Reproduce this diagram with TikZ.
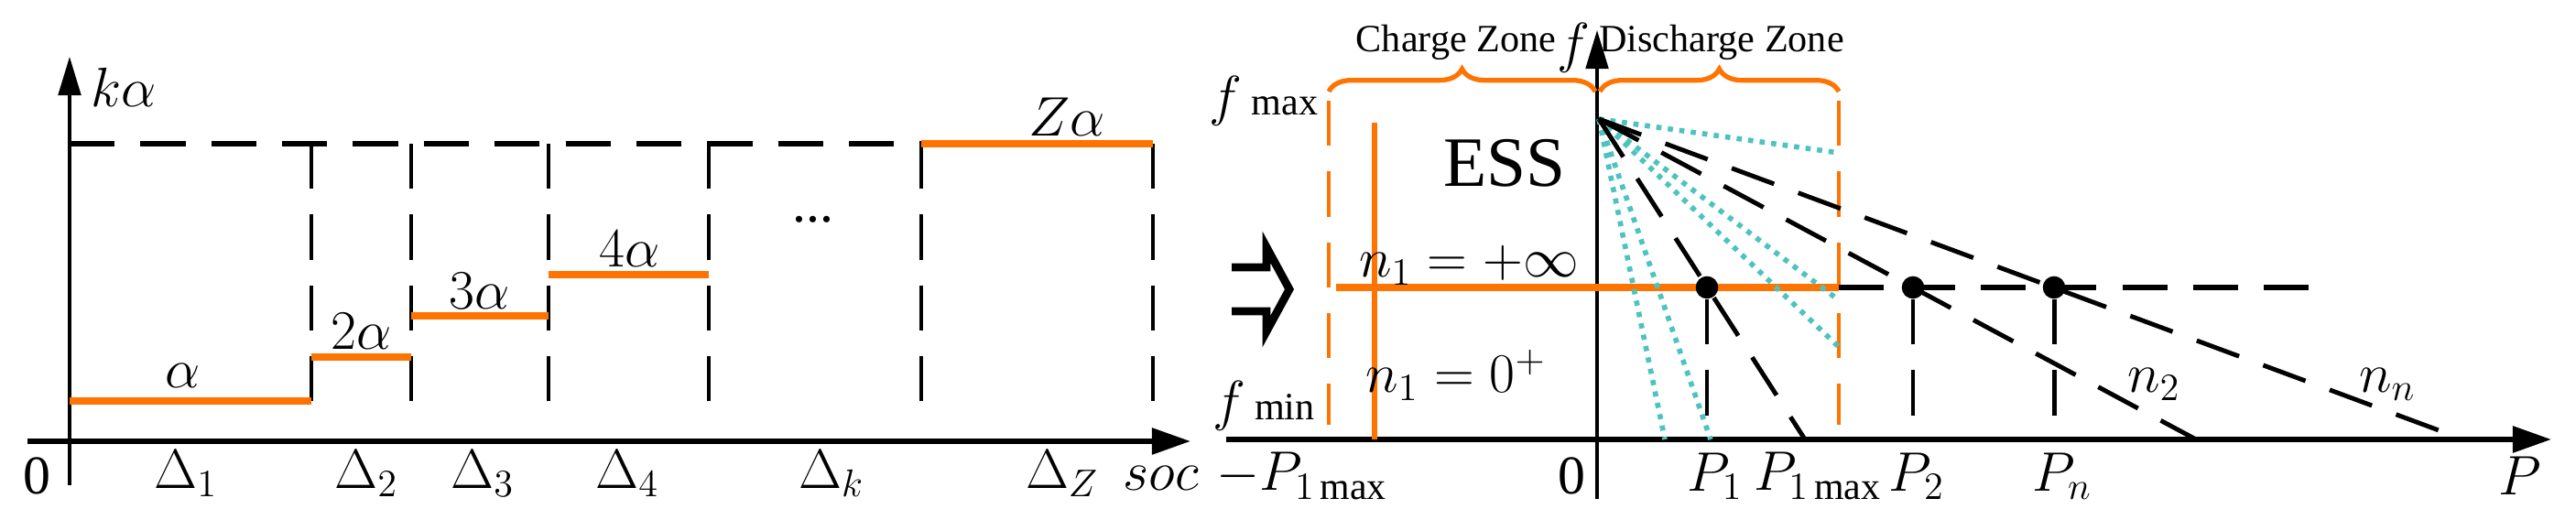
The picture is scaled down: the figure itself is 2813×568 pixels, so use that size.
\documentclass[tikz,border=0pt]{standalone}
\usepackage{fontspec}
\setmainfont{Liberation Serif}
\usetikzlibrary{arrows.meta,decorations.pathreplacing}
\begin{document}
\begin{tikzpicture}[x=0.01cm,y=-0.01cm,
 ax/.style={line width=1pt,-{Triangle[length=12pt,width=7pt]}},
 axb/.style={line width=1.6pt,-{Triangle[length=12pt,width=8pt]}},
 dsh/.style={line width=1.4pt,dash pattern=on 14pt off 8pt},
 org/.style={draw=orange!90!red,color=orange!90!red,line width=2pt},
 odsh/.style={draw=orange!90!red,line width=1.2pt,dash pattern=on 14pt off 8pt},
 cy/.style={draw=cyan!60!green!70!white,line width=1.6pt,dotted},
 lab/.style={font=\fontsize{17}{20}\selectfont,inner sep=1pt},
 small/.style={font=\fontsize{12}{14}\selectfont,inner sep=1pt},
 brc/.style={org,line width=1.5pt,decorate,decoration={brace,amplitude=7pt}},
 dot/.style={circle,fill=black,inner sep=0pt,minimum size=7pt}]
\useasboundingbox (0,0) rectangle (2813,568);
% ---------- left panel
\draw[ax] (76,530) -- (76,62);
\draw[axb] (30,482) -- (1300,482);
\draw[dsh,line width=1.8pt] (76,157) -- (1006,157);
\foreach \x in {340,449,599,774,1006,1259} \draw[dsh] (\x,157) -- (\x,464);
\draw[org,line width=2.5pt] (76,438) -- (340,438);
\draw[org,line width=2.5pt] (340,390) -- (449,390);
\draw[org,line width=2.5pt] (449,345) -- (599,345);
\draw[org,line width=2.5pt] (599,300) -- (774,300);
\draw[org,line width=2.5pt] (1006,157) -- (1259,157);
\node[lab] (ka) at (135,95) {$k\alpha$};
\node[lab] (a1) at (200,410) {$\alpha$};
\node[lab] (a2) at (395,362) {$2\alpha$};
\node[lab] (a3) at (524,318) {$3\alpha$};
\node[lab] (a4) at (688,272) {$4\alpha$};
\node[lab] (az) at (1165,128) {$Z\alpha$};
\node[lab] (dots) at (888,240) {...};
\node[lab] (z0) at (40,520) {0};
\foreach \x/\t in {203/1,400/2,527/3,685/4,908/k,1160/Z}
  \node[lab] at (\x,517) {$\Delta_{\t}$};
\node[lab] (soc) at (1268,522) {$soc$};
% ---------- double arrow (outline)
\draw[line width=2.5pt,line join=miter] (1345,292) -- (1383,292) -- (1383,270) -- (1408,316) -- (1383,362) -- (1383,340) -- (1345,340);
% ---------- right panel
\draw[ax] (1744,545) -- (1744,33);
\draw[axb] (1339,480) -- (2786,480);
\draw[odsh] (1451,110) -- (1451,464);
\draw[odsh] (2008,110) -- (2008,464);
\draw[brc] (1451,100) -- (1742,100);
\draw[brc] (1747,100) -- (2008,100);
\node[small] (cz) at (1590,46) {Charge Zone};
\node[small] (dz) at (1880,46) {Discharge Zone};
\node[lab] (fl) at (1718,52) {$f$};
\node[lab] (fmax) at (1380,110) {$f$\,{\fontsize{12}{14}\selectfont max}};
\node[lab] (fmin) at (1380,443) {$f$\,{\fontsize{12}{14}\selectfont min}};
\draw[org,line width=1.6pt] (1501,134) -- (1501,480);
\draw[org,line width=2.5pt] (1459,314) -- (2008,314);
\draw[dsh,line width=1.8pt] (2008,314) -- (2534,314);
\coordinate (A) at (1746,130);
\coordinate (q1) at (1971,480);
\coordinate (q2) at (2398,480);
\coordinate (qn) at (2690,480);
\foreach \e in {(2008,167),(2008,328),(2008,379),(1818,480),(1868,480)} \draw[cy] (A) -- \e;
\draw[dsh] (A) -- (q1);
\draw[dsh] (A) -- (q2);
\draw[dsh] (A) -- (qn);
\node[dot] (d1) at (1864,314) {};
\node[dot] (d2) at (2089,314) {};
\node[dot] (dn) at (2243,314) {};
\draw[dsh] (d1) -- (1864,480);
\draw[dsh] (d2) -- (2089,480);
\draw[dsh] (dn) -- (2243,480);
\node[lab,font=\fontsize{22}{24}\selectfont] (ess) at (1643,178) {ESS};
\node[lab] (ninf) at (1604,290) {$n_1=+\infty$};
\node[lab] (nzero) at (1590,410) {$n_1=0^+$};
\node[lab] (n2) at (2352,420) {$n_2$};
\node[lab] (nn) at (2607,420) {$n_n$};
\node[lab] (mp) at (1422,520) {$-P_{1\max}$};
\node[lab] (r0) at (1716,520) {0};
\node[lab] (p1) at (1873,520) {$P_1$};
\node[lab] (p1m) at (1985,520) {$P_{1\max}$};
\node[lab] (p2) at (2093,520) {$P_2$};
\node[lab] (pn) at (2252,520) {$P_n$};
\node[lab] (pp) at (2752,520) {$P$};
\end{tikzpicture}
\end{document}
